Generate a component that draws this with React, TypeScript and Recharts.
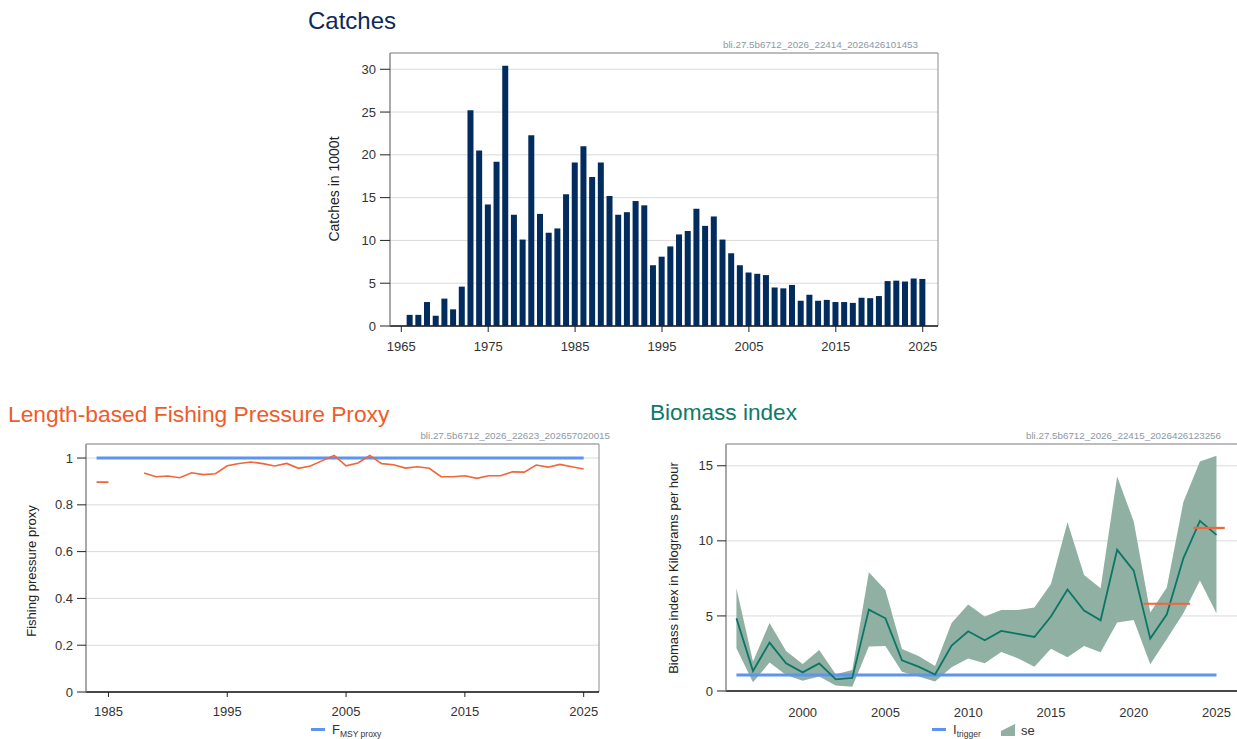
import React from 'react';
import {
  ComposedChart,
  Bar,
  Line,
  Area,
  XAxis,
  YAxis,
  CartesianGrid,
  ReferenceArea,
} from 'recharts';

const FONT = '"Liberation Sans", Arial, Helvetica, sans-serif';

// Catches, 1000 t
const catchYears = [
  1966, 1967, 1968, 1969, 1970, 1971, 1972, 1973, 1974, 1975,
  1976, 1977, 1978, 1979, 1980, 1981, 1982, 1983, 1984, 1985,
  1986, 1987, 1988, 1989, 1990, 1991, 1992, 1993, 1994, 1995,
  1996, 1997, 1998, 1999, 2000, 2001, 2002, 2003, 2004, 2005,
  2006, 2007, 2008, 2009, 2010, 2011, 2012, 2013, 2014, 2015,
  2016, 2017, 2018, 2019, 2020, 2021, 2022, 2023, 2024, 2025,
];
const catchValues = [
  1.3, 1.3, 2.8, 1.2, 3.2, 1.95, 4.6, 25.2, 20.5, 14.2,
  19.2, 30.4, 13.0, 10.1, 22.3, 13.1, 10.9, 11.4, 15.4, 19.1,
  21.0, 17.4, 19.1, 15.2, 13.0, 13.3, 14.6, 14.1, 7.1, 8.1,
  9.3, 10.7, 11.1, 13.7, 11.7, 12.8, 10.1, 8.5, 7.1, 6.25,
  6.1, 5.95, 4.5, 4.4, 4.8, 2.95, 3.65, 2.95, 3.05, 2.8,
  2.8, 2.7, 3.3, 3.25, 3.5, 5.25, 5.3, 5.2, 5.55, 5.5,
];
const catchXTicks = [1965, 1975, 1985, 1995, 2005, 2015, 2025];
const catchYTicks = [0, 5, 10, 15, 20, 25, 30];

// Length-based fishing pressure proxy
const fpYears = [
  1984, 1985, 1986, 1987, 1988, 1989, 1990, 1991, 1992, 1993, 1994,
  1995, 1996, 1997, 1998, 1999, 2000, 2001, 2002, 2003, 2004,
  2005, 2006, 2007, 2008, 2009, 2010, 2011, 2012, 2013, 2014,
  2015, 2016, 2017, 2018, 2019, 2020, 2021, 2022, 2023, 2024, 2025,
];
const fpValues = [
  0.897, 0.897, null, null, 0.936, 0.92, 0.923, 0.916, 0.937, 0.929, 0.933,
  0.967, 0.977, 0.983, 0.976, 0.966, 0.977, 0.956, 0.966, 0.989, 1.011,
  0.967, 0.979, 1.011, 0.976, 0.971, 0.957, 0.963, 0.956, 0.92, 0.92,
  0.924, 0.913, 0.924, 0.924, 0.941, 0.94, 0.97, 0.961, 0.973, 0.963, 0.953,
];
const fmsyProxy = 1;
const fpXTicks = [1985, 1995, 2005, 2015, 2025];
const fpYTicks = [0, 0.2, 0.4, 0.6, 0.8, 1];

// Biomass index, kg per hour
const biYears = [
  1996, 1997, 1998, 1999, 2000, 2001, 2002, 2003, 2004, 2005,
  2006, 2007, 2008, 2009, 2010, 2011, 2012, 2013, 2014, 2015,
  2016, 2017, 2018, 2019, 2020, 2021, 2022, 2023, 2024, 2025,
];
const biIndex = [
  4.84, 1.33, 3.22, 1.84, 1.24, 1.84, 0.78, 0.87, 5.42, 4.84,
  2.04, 1.62, 1.1, 3.02, 3.98, 3.38, 4.0, 3.8, 3.6, 4.96,
  6.76, 5.36, 4.71, 9.4, 8.02, 3.49, 5.11, 8.84, 11.33, 10.4,
];
const biUpper = [
  6.84, 1.96, 4.53, 2.67, 1.8, 2.73, 1.11, 1.4, 7.91, 6.73,
  2.8, 2.33, 1.67, 4.53, 5.76, 4.96, 5.4, 5.4, 5.56, 7.13,
  11.24, 7.73, 6.84, 14.29, 11.29, 5.22, 6.89, 12.58, 15.29, 15.67,
];
const biLower = [
  2.84, 0.58, 1.89, 1.07, 0.69, 0.96, 0.36, 0.29, 2.96, 3.0,
  1.29, 0.96, 0.64, 1.58, 2.16, 1.84, 2.6, 2.18, 1.62, 2.82,
  2.24, 3.0, 2.58, 4.56, 4.73, 1.78, 3.47, 5.18, 7.36, 5.18,
];
const iTrigger = 1.07;
// averages of the index over recent periods (start, end, value)
const avgPeriodStart = [2020.6, 2023.6];
const avgPeriodEnd = [2023.4, 2025.5];
const avgPeriodValue = [5.81, 10.86];
const biXTicks = [2000, 2005, 2010, 2015, 2020, 2025];
const biYTicks = [0, 5, 10, 15];

const catchData = catchYears.map((year, i) => ({ year, catches: catchValues[i] }));
const fpData = fpYears.map((year, i) => ({ year, fp: fpValues[i], fmsy: fmsyProxy }));
const biData = biYears.map((year, i) => ({
  year,
  index: biIndex[i],
  se: [biLower[i], biUpper[i]],
  trigger: iTrigger,
}));
const avgSegments = avgPeriodValue.map((v, i) => [
  { year: avgPeriodStart[i], avg: v },
  { year: avgPeriodEnd[i], avg: v },
]);

const BLUE = '#5f93f2';
const ORANGE = '#f2643a';
const GREEN = '#0b7566';
const BAND = '#8fb0a3';
const FRAME = '#8c8c8c';
const AXIS = '#222';
const tickStyle = { fontSize: 13, fill: '#333', fontFamily: FONT };

function Title({ text, left, top, color, size = 23 }: { text: string; left: number; top: number; color: string; size?: number }) {
  return (
    <div style={{ position: 'absolute', left, top, fontSize: size, lineHeight: '26px', color, fontFamily: FONT, whiteSpace: 'nowrap' }}>
      {text}
    </div>
  );
}

function Stamp({ text, right, top }: { text: string; right: number; top: number }) {
  return (
    <div style={{ position: 'absolute', right: 1237 - right, top, fontSize: 9.8, lineHeight: '10px', color: '#8d97a5', fontFamily: FONT, whiteSpace: 'nowrap' }}>
      {text}
    </div>
  );
}

function AxisTitle({ text, cx, cy, size = 13 }: { text: string; cx: number; cy: number; size?: number }) {
  return (
    <div
      style={{
        position: 'absolute',
        left: cx,
        top: cy,
        transform: 'translate(-50%, -50%) rotate(-90deg)',
        fontSize: size,
        lineHeight: '15px',
        color: '#222',
        fontFamily: FONT,
        whiteSpace: 'nowrap',
      }}
    >
      {text}
    </div>
  );
}

function LineKey({ left, top, main, sub }: { left: number; top: number; main: string; sub: string }) {
  return (
    <div style={{ position: 'absolute', left, top, display: 'flex', alignItems: 'center', fontFamily: FONT, color: '#333', whiteSpace: 'nowrap' }}>
      <span style={{ display: 'inline-block', width: 14, height: 3, background: BLUE, marginRight: 7 }} />
      <span style={{ fontSize: 13 }}>{main}</span>
      <span style={{ fontSize: 8.5, position: 'relative', top: 4 }}>{sub}</span>
    </div>
  );
}

function CatchesPanel() {
  return (
    <div style={{ position: 'absolute', left: 300, top: 50 }}>
      <ComposedChart width={660} height={310} data={catchData} margin={{ top: 3, right: 22, bottom: 4, left: 50 }}>
        <CartesianGrid vertical={false} stroke="#dadada" />
        <XAxis
          dataKey="year"
          type="number"
          scale="linear"
          domain={[1963.7, 2026.76]}
          ticks={catchXTicks}
          tick={tickStyle}
          tickSize={6}
          tickMargin={10}
          axisLine={{ stroke: AXIS, strokeWidth: 1.3 }}
          tickLine={{ stroke: AXIS }}
        />
        <YAxis
          width={40}
          domain={[0, 31.9]}
          ticks={catchYTicks}
          tick={tickStyle}
          tickSize={10}
          tickMargin={4}
          axisLine={{ stroke: FRAME }}
          tickLine={{ stroke: AXIS }}
        />
        <ReferenceArea x1={1963.7} x2={2026.76} y1={0} y2={31.9} fill="none" stroke={FRAME} />
        <Bar dataKey="catches" fill="#022c5e" barSize={6} isAnimationActive={false} />
      </ComposedChart>
    </div>
  );
}

function FishingPanel() {
  return (
    <div style={{ position: 'absolute', left: 0, top: 440 }}>
      <ComposedChart width={620} height={300} data={fpData} margin={{ top: 4, right: 21, bottom: 18, left: 46 }}>
        <CartesianGrid vertical={false} stroke="#dadada" />
        <XAxis
          dataKey="year"
          type="number"
          scale="linear"
          domain={[1983.11, 2026.29]}
          ticks={fpXTicks}
          tick={tickStyle}
          tickSize={5}
          tickMargin={10}
          axisLine={{ stroke: AXIS, strokeWidth: 1.3 }}
          tickLine={{ stroke: AXIS }}
        />
        <YAxis
          width={40}
          domain={[0, 1.06]}
          ticks={fpYTicks}
          tick={tickStyle}
          tickSize={9}
          tickMargin={4}
          axisLine={{ stroke: FRAME }}
          tickLine={{ stroke: AXIS }}
        />
        <ReferenceArea x1={1983.11} x2={2026.29} y1={0} y2={1.06} fill="none" stroke={FRAME} />
        <Line dataKey="fmsy" stroke={BLUE} strokeWidth={3} dot={false} isAnimationActive={false} />
        <Line dataKey="fp" stroke={ORANGE} strokeWidth={1.6} dot={false} isAnimationActive={false} />
      </ComposedChart>
    </div>
  );
}

function BiomassPanel() {
  return (
    <div style={{ position: 'absolute', left: 640, top: 440 }}>
      <ComposedChart width={598} height={300} data={biData} margin={{ top: 4, right: 0, bottom: 19, left: 46 }}>
        <CartesianGrid vertical={false} stroke="#dadada" />
        <XAxis
          dataKey="year"
          type="number"
          scale="linear"
          domain={[1995.37, 2026.3]}
          ticks={biXTicks}
          tick={tickStyle}
          tickLine={false}
          tickMargin={11}
          axisLine={{ stroke: AXIS, strokeWidth: 1.3 }}
        />
        <YAxis
          width={40}
          domain={[0, 16.45]}
          ticks={biYTicks}
          tick={tickStyle}
          tickSize={9}
          tickMargin={4}
          axisLine={{ stroke: FRAME }}
          tickLine={{ stroke: AXIS }}
        />
        <ReferenceArea x1={1995.37} x2={2026.3} y1={0} y2={16.45} fill="none" stroke={FRAME} />
        <Area dataKey="se" fill={BAND} fillOpacity={1} stroke="none" isAnimationActive={false} />
        <Line dataKey="trigger" stroke={BLUE} strokeWidth={3} dot={false} isAnimationActive={false} />
        <Line dataKey="index" stroke={GREEN} strokeWidth={1.8} dot={false} isAnimationActive={false} />
        {avgSegments.map((seg, i) => (
          <Line
            key={i}
            data={seg}
            dataKey="avg"
            stroke={ORANGE}
            strokeWidth={2.2}
            dot={false}
            isAnimationActive={false}
          />
        ))}
      </ComposedChart>
    </div>
  );
}

export default function App() {
  return (
    <div style={{ position: 'absolute', left: 0, top: 0, width: 1237, height: 739, overflow: 'hidden', background: '#fff', fontFamily: FONT }}>
      <Title text="Catches" left={308} top={8} color="#0b2a5b" size={24} />
      <Stamp text="bli.27.5b6712_2026_22414_2026426101453" right={918} top={40} />
      <AxisTitle text="Catches in 1000t" cx={334} cy={189} size={14} />
      <CatchesPanel />

      <Title text="Length-based Fishing Pressure Proxy" left={8} top={401} color="#ef5b29" size={22.8} />
      <Stamp text="bli.27.5b6712_2026_22623_202657020015" right={610} top={431} />
      <AxisTitle text="Fishing pressure proxy" cx={31} cy={571} />
      <FishingPanel />
      <LineKey left={311} top={722} main="F" sub="MSY proxy" />

      <Title text="Biomass index" left={650} top={400} color="#0d7a69" size={22.6} />
      <Stamp text="bli.27.5b6712_2026_22415_2026426123256" right={1221} top={431} />
      <AxisTitle text="Biomass index in Kilograms per hour" cx={673} cy={568} />
      <BiomassPanel />
      <LineKey left={932} top={722} main="I" sub="trigger" />
      <div style={{ position: 'absolute', left: 1000, top: 722, display: 'flex', alignItems: 'center', fontFamily: FONT, color: '#333' }}>
        <svg width={16} height={16} style={{ marginRight: 5 }}>
          <polygon points="1,9 15,2 15,14 1,14" fill={BAND} />
        </svg>
        <span style={{ fontSize: 13 }}>se</span>
      </div>
    </div>
  );
}
